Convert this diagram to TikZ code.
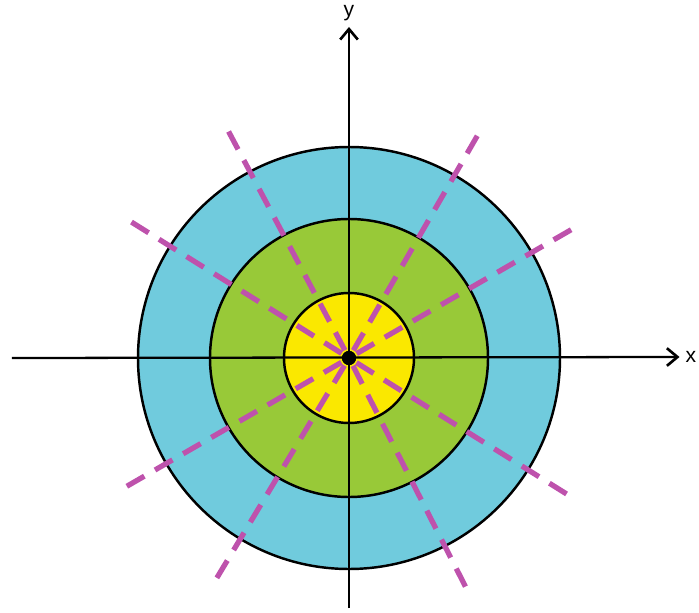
\documentclass[tikz,border=0pt]{standalone}
\usepackage{fontspec}
\setmainfont{Liberation Sans}
\usetikzlibrary{arrows.meta}

\definecolor{ringblue}{RGB}{112,203,221}
\definecolor{ringgreen}{RGB}{152,201,56}
\definecolor{ringyellow}{RGB}{250,232,0}
\definecolor{raypink}{RGB}{190,82,172}

\begin{document}
\begin{tikzpicture}[x=0.02cm,y=0.02cm]
\tikzstyle{ring}=[draw=black,line width=1.4pt]
\tikzstyle{axis}=[line width=1.3pt,-{Straight Barb[length=6pt,width=10pt,line width=1.5pt]}]
\tikzstyle{ray}=[draw=raypink,line width=3pt,dash pattern=on 11.5pt off 7pt,shorten <=5pt]
   \useasboundingbox (-349,-254) rectangle (350,358);

   \draw [ring,fill=ringblue] (0,0) circle (211);
   \draw [ring,fill=ringgreen] (0,0) circle (139);
   \draw [ring,fill=ringyellow] (0,0) circle (65);

   \node (o) [circle,fill=black,inner sep=0pt,minimum size=8pt] at (0,0) {};
   \coordinate (xl) at (-337,0);
   \coordinate (yb) at (0,-250);
   \node (x) [font=\large] at (342,1) {x};
   \node (y) [font=\large] at (0,345) {y};
   \draw [axis] (xl) -- (x.west);
   \draw [axis] (yb) -- (y.south);

   \draw (30: 258) coordinate (r1);
   \draw (60: 258) coordinate (r2);
   \draw (118: 258) coordinate (r3);
   \draw (148: 258) coordinate (r4);
   \draw (210: 258) coordinate (r5);
   \draw (239: 258) coordinate (r6);
   \draw (297: 258) coordinate (r7);
   \draw (328: 258) coordinate (r8);
   \path [ray] (o.center) -- (r1) ;
   \path [ray] (o.center) -- (r2) ;
   \path [ray] (o.center) -- (r3) ;
   \path [ray] (o.center) -- (r4) ;
   \path [ray] (o.center) -- (r5) ;
   \path [ray] (o.center) -- (r6) ;
   \path [ray] (o.center) -- (r7) ;
   \path [ray] (o.center) -- (r8) ;

   \node [circle,fill=black,inner sep=0pt,minimum size=8pt] at (o) {};
\end{tikzpicture}
\end{document}
